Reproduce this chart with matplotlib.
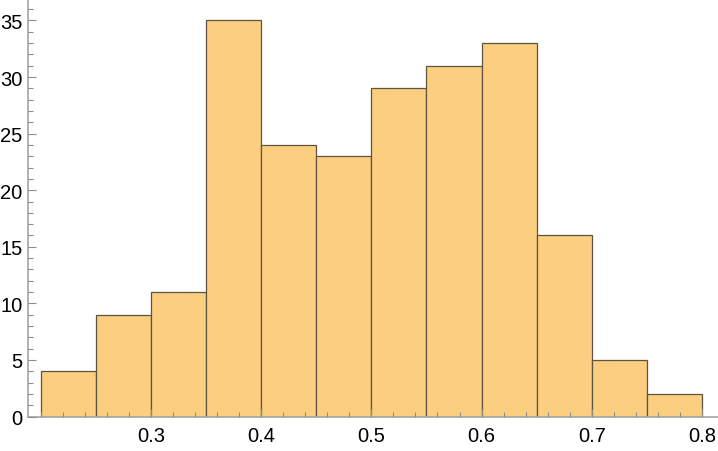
import matplotlib.pyplot as plt
import numpy as np
from matplotlib.ticker import MultipleLocator

bin_edges = [0.20, 0.25, 0.30, 0.35, 0.40, 0.45, 0.50, 0.55, 0.60, 0.65, 0.70, 0.75, 0.80]
counts = [4, 9, 11, 35, 24, 23, 29, 31, 33, 16, 5, 2]

plt.rcParams['font.family'] = ['Liberation Sans', 'DejaVu Sans']

fig = plt.figure(figsize=(7.18, 4.52), dpi=100)
ax = fig.add_axes([28/718, 34.5/452, 690/718, 417.5/452])

left = np.array(bin_edges[:-1])
widths = np.diff(bin_edges)
ax.bar(left, counts, width=widths, align='edge', color='#fbcf7f',
       edgecolor='#5e5240', linewidth=0.9, zorder=1)

ax.set_xlim(0.1885, 0.8145)
ax.set_ylim(0, 36.9)

ax.xaxis.set_minor_locator(MultipleLocator(0.02))
ax.yaxis.set_major_locator(MultipleLocator(5))
ax.yaxis.set_minor_locator(MultipleLocator(1))
ax.set_xticks([0.3, 0.4, 0.5, 0.6, 0.7, 0.8])
ax.set_xticklabels(['0.3', '0.4', '0.5', '0.6', '0.7', '0.8'])

for s in ['top', 'right']:
    ax.spines[s].set_visible(False)
for s in ['left', 'bottom']:
    ax.spines[s].set_color('#a6a6a6')
    ax.spines[s].set_linewidth(1.2)

ax.tick_params(which='both', direction='in', color='#8c8c8c', labelsize=14.5,
               labelcolor='black', width=0.8)
ax.tick_params(which='major', length=6)
ax.tick_params(which='minor', length=3.5)
ax.tick_params(axis='x', pad=7)
ax.tick_params(axis='y', pad=4)
ax.set_axisbelow(False)

fig.savefig('out.png', dpi=100)
